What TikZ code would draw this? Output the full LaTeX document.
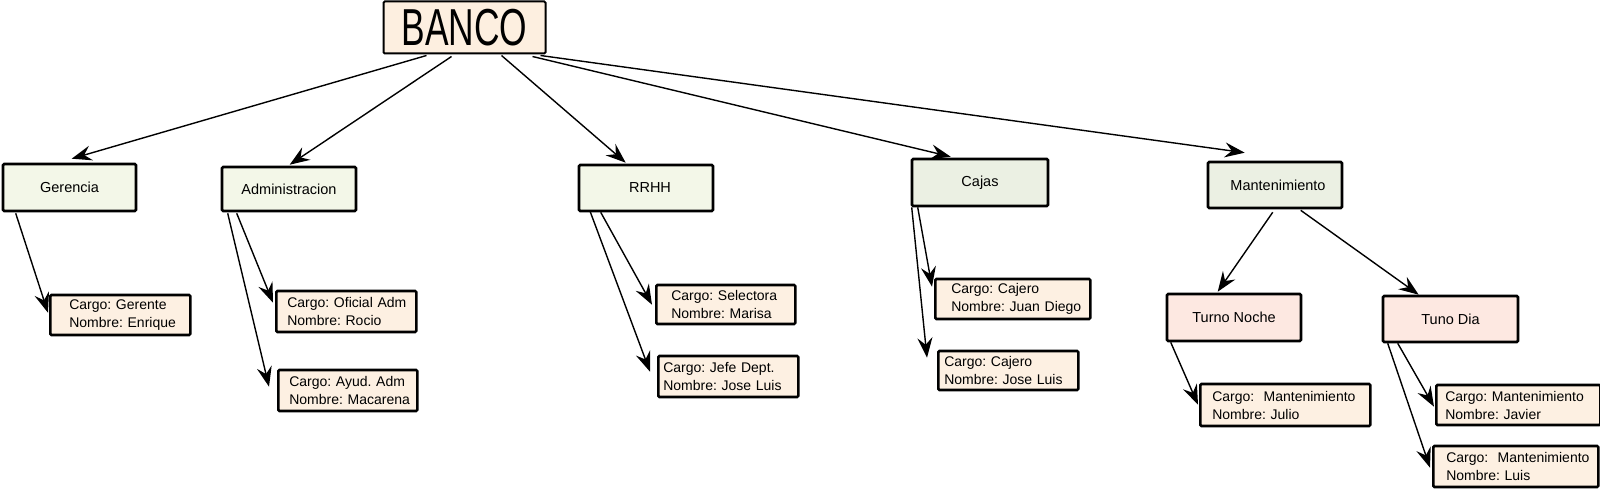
\documentclass[tikz,border=0pt]{standalone}
\usepackage{fontspec}
\usepackage{graphicx}
\setmainfont{Liberation Sans}
\usetikzlibrary{arrows.meta}
\definecolor{peach}{HTML}{FDEFE0}
\definecolor{greenA}{HTML}{F3F7E8}
\definecolor{greenB}{HTML}{EBF0E3}
\definecolor{pinkc}{HTML}{FDE8E1}
\definecolor{leafc}{HTML}{FDF0E2}
\tikzset{
  box/.style={draw, line width=2.6pt, rounded corners=1.2pt, inner sep=0pt,
    font=\fontsize{14.5}{16}\selectfont\frenchspacing},
  leaf/.style={draw, line width=2.6pt, rounded corners=1.2pt, anchor=west, align=left,
    inner ysep=0pt, font=\fontsize{14}{18}\selectfont\frenchspacing, fill=leafc},
  conn/.style={line width=1.4pt, -{Stealth[length=20pt,width=15pt,inset=7pt]}},
}
\begin{document}
\begin{tikzpicture}[x=1pt,y=1pt]
\useasboundingbox (0,0) rectangle (1600,-489);
% root
\node[box, fill=peach, line width=2pt, minimum width=162pt, minimum height=52pt,
  font=\fontsize{52}{52}\selectfont] (banco) at (464.5,-27.5) {\scalebox{0.68}[1]{BANCO}\hspace{14pt}};
% level 2
\node[box, fill=greenA, minimum width=133pt, minimum height=47pt] (ger) at (69.5,-187.5) {Gerencia\hspace{16pt}};
\node[box, fill=greenA, minimum width=134pt, minimum height=44pt] (adm) at (289,-189) {Administracion};
\node[box, fill=greenA, minimum width=134pt, minimum height=46pt] (rrhh) at (646,-188) {\hspace{8pt}RRHH};
\node[box, fill=greenB, minimum width=136pt, minimum height=47pt] (caj) at (980,-182.5) {Cajas};
\node[box, fill=greenB, minimum width=134pt, minimum height=46pt] (man) at (1275,-185) {\hspace{6pt}Mantenimiento};
\node[box, fill=pinkc, minimum width=134pt, minimum height=47pt] (noc) at (1234,-317.5) {Turno Noche};
\node[box, fill=pinkc, minimum width=135pt, minimum height=46pt] (dia) at (1450.5,-319) {Tuno Dia\hspace{12pt}};
% leaves
\node[leaf, inner xsep=19pt, text width=102pt, minimum height=40pt] (gte) at (49,-315)
  {\mbox{Cargo: Gerente}\\\mbox{Nombre: Enrique}};
\node[leaf, inner xsep=11pt, text width=118pt, minimum height=41pt] (ofi) at (275,-311.5)
  {\mbox{Cargo: Oficial Adm}\\\mbox{Nombre: Rocio}};
\node[leaf, inner xsep=11pt, text width=117pt, minimum height=41pt] (ayu) at (277,-390.5)
  {\mbox{Cargo: Ayud. Adm}\\\mbox{Nombre: Macarena}};
\node[leaf, inner xsep=15pt, text width=109pt, minimum height=39pt] (sel) at (655,-304.5)
  {\mbox{Cargo: Selectora}\\\mbox{Nombre: Marisa}};
\node[leaf, inner xsep=5pt, text width=130pt, minimum height=41pt] (jef) at (657,-376.5)
  {\mbox{Cargo: Jefe Dept.}\\\mbox{Nombre: Jose Luis}};
\node[leaf, inner xsep=16pt, text width=123pt, minimum height=40pt] (jua) at (934,-299)
  {\mbox{Cargo: Cajero}\\\mbox{Nombre: Juan Diego}};
\node[leaf, inner xsep=6pt, text width=128pt, minimum height=39pt] (jos) at (937,-370.5)
  {\mbox{Cargo: Cajero}\\\mbox{Nombre: Jose Luis}};
\node[leaf, inner xsep=12pt, text width=146pt, minimum height=42pt] (jul) at (1199,-405)
  {\mbox{Cargo:\ \ Mantenimiento}\\\mbox{Nombre: Julio}};
\node[leaf, inner xsep=9pt, text width=146pt, minimum height=40pt] (jav) at (1435,-405)
  {\mbox{Cargo: Mantenimiento}\\\mbox{Nombre: Javier}};
\node[leaf, inner xsep=13pt, text width=139pt, minimum height=41pt] (lui) at (1432,-466.5)
  {\mbox{Cargo:\ \ Mantenimiento}\\\mbox{Nombre: Luis}};
% root connectors
\draw[conn] ([xshift=44pt,yshift=-1pt]banco.south west) -- ([xshift=70pt,yshift=4pt]ger.north west);
\draw[conn] ([xshift=69pt,yshift=-2pt]banco.south west) -- ([xshift=69pt,yshift=1pt]adm.north west);
\draw[conn] ([xshift=119pt,yshift=-1pt]banco.south west) -- ([xshift=48pt,yshift=1pt]rrhh.north west);
\draw[conn] ([xshift=150pt,yshift=-2pt]banco.south west) -- ([xshift=40pt,yshift=1pt]caj.north west);
\draw[conn] ([xshift=158pt,yshift=-1pt]banco.south west) -- ([xshift=38pt,yshift=8pt]man.north west);
% second level connectors
\draw[conn] ([xshift=14pt,yshift=-1pt]ger.south west) -- ([xshift=-1pt,yshift=-19pt]gte.north west);
\draw[conn] ([xshift=16pt,yshift=-1pt]adm.south west) -- ([xshift=-2pt,yshift=-13pt]ofi.north west);
\draw[conn] ([xshift=7pt,yshift=-1pt]adm.south west) -- ([xshift=-8pt,yshift=-18pt]ayu.north west);
\draw[conn] ([xshift=23pt,yshift=0pt]rrhh.south west) -- ([xshift=-3pt,yshift=-21pt]sel.north west);
\draw[conn] ([xshift=12pt,yshift=2pt]rrhh.south west) -- ([xshift=-7pt,yshift=-17pt]jef.north west);
\draw[conn] ([xshift=7pt,yshift=0pt]caj.south west) -- ([xshift=-2pt,yshift=-9pt]jua.north west);
\draw[conn] ([xshift=1pt,yshift=0pt]caj.south west) -- ([xshift=-10pt,yshift=-8pt]jos.north west);
\draw[conn] ([xshift=66pt,yshift=-3pt]man.south west) -- ([xshift=52pt,yshift=1pt]noc.north west);
\draw[conn] ([xshift=94pt,yshift=-1pt]man.south west) -- ([xshift=37pt,yshift=0pt]dia.north west);
\draw[conn] ([xshift=5pt,yshift=0pt]noc.south west) -- ([xshift=-1pt,yshift=-22pt]jul.north west);
\draw[conn] ([xshift=16pt,yshift=0pt]dia.south west) -- ([xshift=-1pt,yshift=-23pt]jav.north west);
\draw[conn] ([xshift=6pt,yshift=0pt]dia.south west) -- ([xshift=-2pt,yshift=-23pt]lui.north west);
\end{tikzpicture}
\end{document}
